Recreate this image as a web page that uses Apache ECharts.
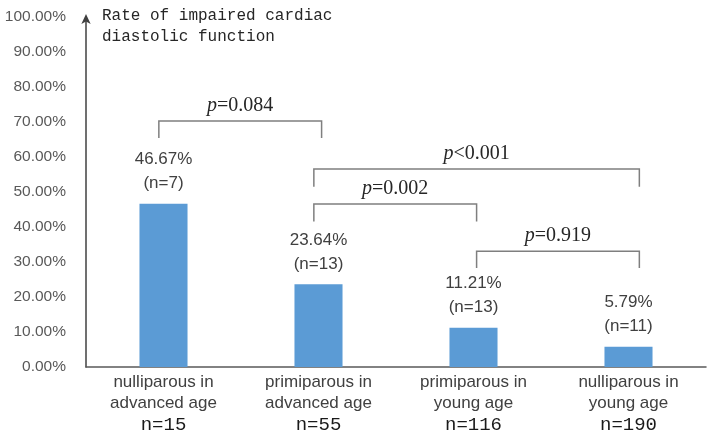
<!DOCTYPE html>
<html>
<head>
<meta charset="utf-8">
<script src="https://cdn.jsdelivr.net/npm/echarts@6/dist/echarts.min.js"></script>
<style>html,body{margin:0;padding:0;background:#fff;}#c{width:711px;height:442px;}</style>
</head>
<body>
<div id="c"></div>
<script>
var groupLine1 = ['nulliparous in', 'primiparous in', 'primiparous in', 'nulliparous in'];
var groupLine2 = ['advanced age', 'advanced age', 'young age', 'young age'];
var groupN = [15, 55, 116, 190];
var rates = [46.67, 23.64, 11.21, 5.79];
var cases = [7, 13, 13, 11];
var yTicks = [0, 10, 20, 30, 40, 50, 60, 70, 80, 90, 100];
// comparison brackets: from category, to category (in category units), top value, leg bottom value, label
var bracketFrom = [-0.03, 0.97, 0.97, 2.02];
var bracketTo = [1.02, 3.07, 2.02, 3.07];
var bracketTop = [70.3, 56.6, 46.6, 33.1];
var bracketLeg = [65.4, 51.5, 41.6, 28.3];
var bracketOp = ['=', '<', '=', '='];
var bracketP = ['0.084', '0.001', '0.002', '0.919'];

var chart = echarts.init(document.getElementById('c'));
var sans = 'Liberation Sans, Arial, sans-serif';
var mono = 'Liberation Mono, DejaVu Sans Mono, monospace';
var serif = 'Liberation Serif, Times New Roman, serif';

var cats = groupLine1.map(function (a, i) { return a + ' ' + groupLine2[i]; });

chart.setOption({
  animation: false,
  backgroundColor: '#ffffff',
  title: {
    text: 'Rate of impaired cardiac\ndiastolic function',
    left: 97, top: 0,
    textStyle: { fontFamily: mono, fontSize: 16, fontWeight: 'normal', color: '#262626', lineHeight: 21 }
  },
  grid: { left: 86, right: 5, top: 17, bottom: 75 },
  xAxis: {
    type: 'category',
    data: cats,
    axisLine: { lineStyle: { color: '#595959', width: 1.5 } },
    axisTick: { show: false },
    axisLabel: {
      margin: 5,
      interval: 0,
      formatter: function (v, i) {
        return '{a|' + groupLine1[i] + '}\n{a|' + groupLine2[i] + '}\n{b|n=' + groupN[i] + '}';
      },
      rich: {
        a: { fontFamily: sans, fontSize: 17, color: '#404040', lineHeight: 21 },
        b: { fontFamily: mono, fontSize: 19, color: '#1a1a1a', lineHeight: 22 }
      }
    }
  },
  yAxis: {
    type: 'value',
    min: 0, max: 100, interval: 10,
    axisLine: { show: true, symbol: ['none', 'arrow'], symbolSize: [7, 10], symbolOffset: [0, 3], lineStyle: { color: '#404040', width: 1.5 } },
    axisTick: { show: false },
    splitLine: { show: false },
    axisLabel: {
      margin: 20,
      fontFamily: sans, fontSize: 15.5, color: '#595959',
      formatter: function (v) { return yTicks.indexOf(v) >= 0 ? v.toFixed(2) + '%' : ''; }
    }
  },
  series: [
    {
      type: 'bar',
      data: rates,
      barWidth: '31%',
      itemStyle: { color: '#5b9bd5' },
      label: {
        show: true,
        position: 'top',
        distance: 8,
        formatter: function (p) {
          return '{a|' + rates[p.dataIndex].toFixed(2) + '%}\n{a|(n=' + cases[p.dataIndex] + ')}';
        },
        rich: { a: { fontFamily: sans, fontSize: 17, color: '#404040', lineHeight: 24 } }
      }
    },
    {
      type: 'custom',
      data: bracketTop.map(function (t, i) { return [Math.round(bracketFrom[i]), t]; }),
      encode: { x: 0, y: 1 },
      silent: true,
      z: 5,
      renderItem: function (params, api) {
        var i = params.dataIndex;
        var band = api.size([1, 0])[0];
        function pt(cat, val) {
          var base = Math.round(cat);
          var p = api.coord([base, val]);
          return [p[0] + (cat - base) * band, p[1]];
        }
        var a = pt(bracketFrom[i], bracketLeg[i]);
        var b = pt(bracketFrom[i], bracketTop[i]);
        var c = pt(bracketTo[i], bracketTop[i]);
        var d = pt(bracketTo[i], bracketLeg[i]);
        return {
          type: 'group',
          children: [
            {
              type: 'polyline',
              shape: { points: [a, b, c, d] },
              style: { stroke: '#7f7f7f', lineWidth: 1.5, fill: null }
            },
            {
              type: 'text',
              style: {
                x: (b[0] + c[0]) / 2,
                y: b[1] - 5,
                text: '{i|p}{n|' + bracketOp[i] + bracketP[i] + '}',
                align: 'center',
                verticalAlign: 'bottom',
                rich: {
                  i: { fontFamily: serif, fontStyle: 'italic', fontSize: 20, fill: '#262626' },
                  n: { fontFamily: serif, fontSize: 20, fill: '#262626' }
                }
              }
            }
          ]
        };
      }
    }
  ]
});
</script>
</body>
</html>
